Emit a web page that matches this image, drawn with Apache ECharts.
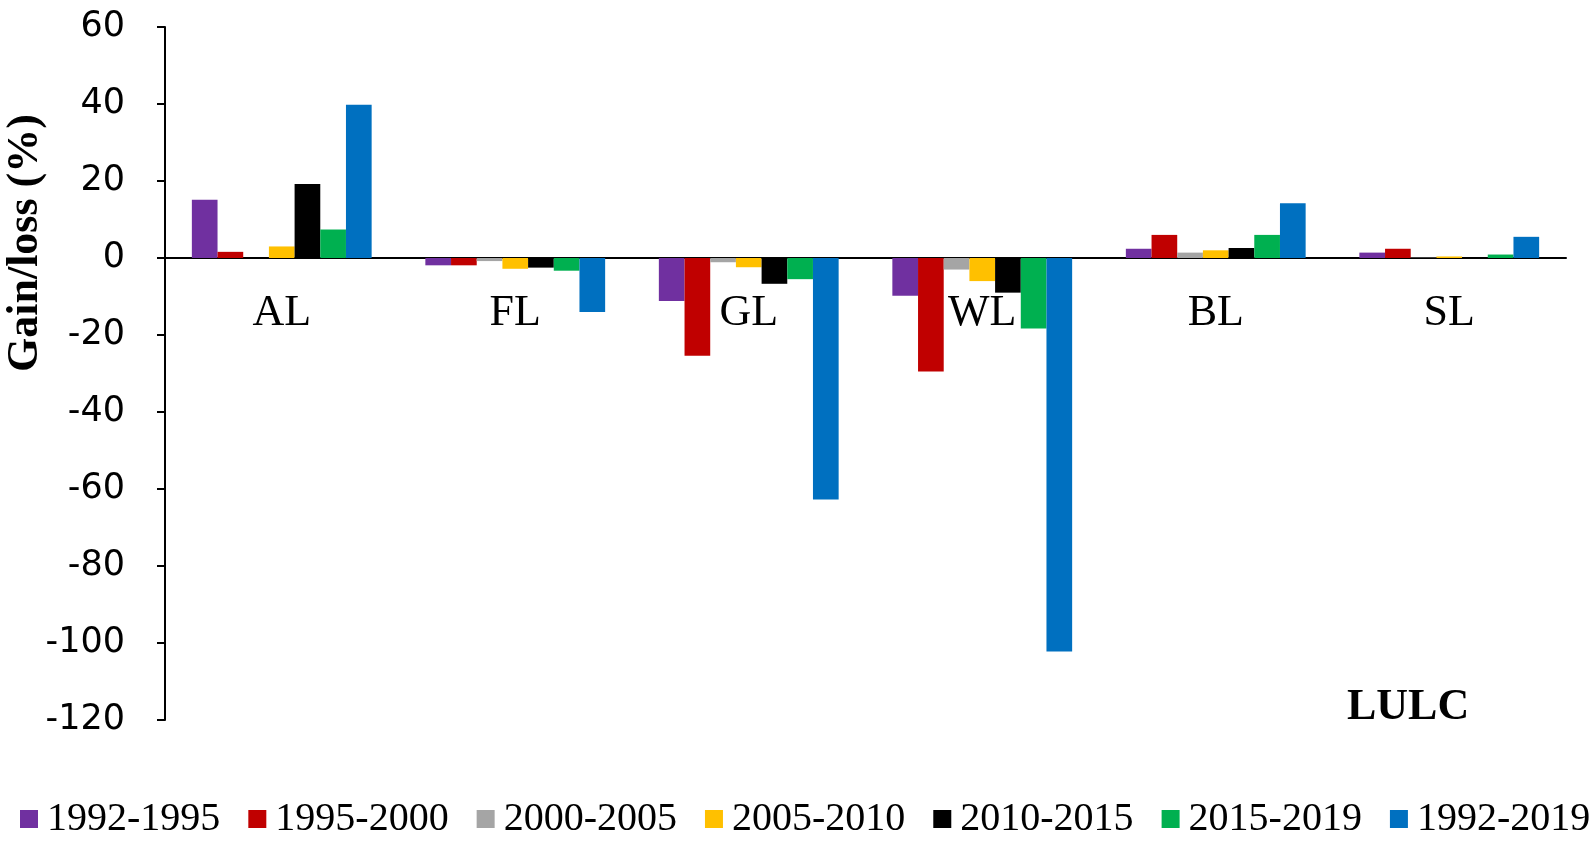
<!DOCTYPE html>
<html>
<head>
<meta charset="utf-8">
<script src="https://cdn.jsdelivr.net/npm/echarts@6/dist/echarts.min.js"></script>
<style>
  html, body { margin: 0; padding: 0; background: #fff; }
  #chart { width: 1594px; height: 845px; }
</style>
</head>
<body>
<div id="chart"></div>
<script>
  // land use classes
  const categories = ['AL', 'FL', 'GL', 'WL', 'BL', 'SL']
  const periods = ['1992-1995', '1995-2000', '2000-2005', '2005-2010', '2010-2015', '2015-2019', '1992-2019']
  const colors = ['#7030A0', '#C00000', '#A5A5A5', '#FFC000', '#000000', '#00B050', '#0070C0']

  // gain/loss (%) per period, in category order
  const p1992_1995 = [15.1, -1.9, -11.2, -9.8, 2.4, 1.4]
  const p1995_2000 = [1.6, -1.9, -25.4, -29.5, 6.0, 2.4]
  const p2000_2005 = [0.0, -0.8, -1.1, -3.0, 1.4, 0.1]
  const p2005_2010 = [3.0, -2.8, -2.4, -6.0, 2.0, 0.4]
  const p2010_2015 = [19.2, -2.5, -6.7, -9.0, 2.6, 0.2]
  const p2015_2019 = [7.4, -3.3, -5.5, -18.3, 6.0, 0.9]
  const p1992_2019 = [39.8, -14.0, -62.7, -102.2, 14.2, 5.5]
  const seriesValues = [p1992_1995, p1995_2000, p2000_2005, p2005_2010, p2010_2015, p2015_2019, p1992_2019]

  const yTicks = { min: -120, max: 60, interval: 20 }

  const gridTop = 27
  const gridBottom = 125
  const plotHeight = 845 - gridTop - gridBottom
  // distance from the plot bottom up to the zero line
  const zeroOffset = plotHeight * (0 - yTicks.min) / (yTicks.max - yTicks.min)

  let myChart = echarts.init(document.getElementById('chart'))
  myChart.setOption({
    animation: false,
    backgroundColor: '#fff',
    grid: {
      left: 165,
      right: 28,
      top: gridTop,
      bottom: gridBottom,
      outerBoundsMode: 'none',
      containLabel: false
    },
    legend: {
      bottom: 6,
      left: 20,
      width: 1580,
      padding: 0,
      itemWidth: 18,
      itemHeight: 18,
      itemGap: 28,
      icon: 'rect',
      textStyle: {
        fontFamily: 'Liberation Serif',
        fontSize: 40,
        color: '#000',
        padding: [0, 0, 0, 4]
      },
      data: periods
    },
    graphic: [{
      type: 'text',
      left: 1347,
      top: 686,
      style: {
        text: 'LULC',
        font: 'bold 44px "Liberation Serif"',
        fill: '#000'
      }
    }, {
      type: 'text',
      x: 4,
      y: 372,
      rotation: Math.PI / 2,
      style: {
        text: 'Gain/loss (%)',
        font: 'bold 44px "Liberation Serif"',
        fill: '#000'
      }
    }],
    xAxis: [{
      type: 'category',
      data: categories,
      axisLine: {
        onZero: true,
        lineStyle: { color: '#000', width: 2 }
      },
      axisTick: { show: false },
      axisLabel: { show: false }
    }, {
      // label row that sits under the zero line
      type: 'category',
      data: categories,
      position: 'bottom',
      offset: -zeroOffset,
      axisLine: { show: false },
      axisTick: { show: false },
      axisLabel: {
        margin: 33,
        fontFamily: 'Liberation Serif',
        fontSize: 44,
        color: '#000'
      }
    }],
    yAxis: {
      type: 'value',
      min: yTicks.min,
      max: yTicks.max,
      interval: yTicks.interval,
      splitLine: { show: false },
      axisLine: {
        show: true,
        lineStyle: { color: '#000', width: 2 }
      },
      axisTick: {
        show: true,
        length: 8,
        lineStyle: { color: '#000', width: 2 }
      },
      axisLabel: {
        margin: 40,
        fontFamily: 'DejaVu Sans',
        fontSize: 35,
        color: '#000'
      }
    },
    series: periods.map((name, i) => ({
      name: name,
      type: 'bar',
      data: seriesValues[i],
      barGap: '0%',
      barCategoryGap: '23%',
      itemStyle: { color: colors[i] }
    }))
  })
</script>
</body>
</html>
